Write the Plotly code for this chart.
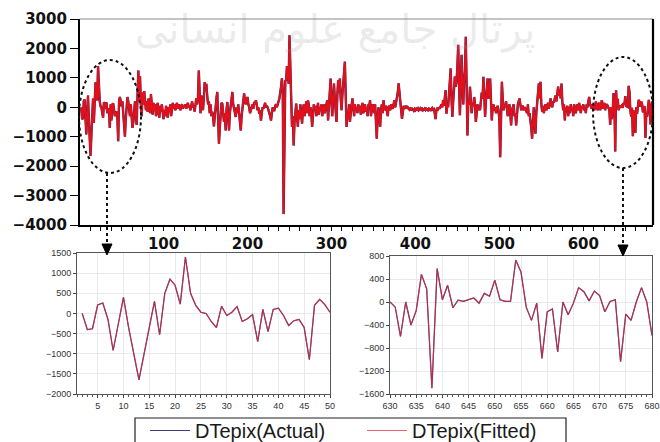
import plotly.graph_objects as go

# ---------------- data ----------------
seg_002_050 = [0, -400, -380, 210, 260, -150, -920, -250, 400, -350,
               -1000, -1650, -1000, -300, 300, -530, 500, 850, 700, 230,
               1400, 500, 200, 30, 0, -200, -350, 180, -50, 30,
               170, -200, -130, -30, -700, 100, -450, 100, 130, -50,
               -300, -180, -150, -350, -1150, 200, 350, 220, 30]
seg_051_140 = [200, -300, -600, -1000, -400, 100, 350, 200, -100, -300,
               100, -200, -700, -500, -200, 200, -300, -600, 400, 1250,
               200, 1050, 100, -300, 500, 100, 550, 100, -100, 200,
               -150, 300, 100, -200, 450, 0, -250, 150, -100, 100,
               -300, -50, 150, -200, -350, 50, -150, 100, -250, -400,
               -100, -300, 50, -200, -350, 0, -150, 100, -300, -100,
               150, -50, 100, -100, 50, 150, -50, 100, 0, -100,
               50, 100, -50, 50, 0, 100, -50, 50, 150, 0,
               50, -100, 100, 200, 0, 50, -150, 100, 300, 100]
seg_141_260 = [300, 1250, 200, -200, 400, 100, -100, 300, 850, 700,
               800, 400, 100, 200, -200, 100, -300, -150, -300, -650,
               -200, 100, 300, 520, -400, -1240, -700, -200, 150, 120,
               -300, -500, -200, -790, -100, 180, -300, -790, -200, 100,
               300, 520, 100, -100, -300, -330, 0, -200, 100, -160,
               -400, -790, -300, 0, 200, 470, 200, 100, 250, 350,
               100, 0, -200, -100, 50, 100, -50, 180, 100, 240,
               100, -100, 0, -220, -100, -450, -200, 0, -50, 70,
               150, 0, 50, 0, -150, -200, -300, -450, -200, 0,
               -100, -100, 50, 100, 0, 70, 200, 300, 470, 700,
               980, 600, -3630, 200, 900, 920, 1400, 1150, 800, 2450,
               1200, 520, -670, -300, -1300, -500, -200, 125, -300, -670]
seg_261_390 = [-100, -400, 100, -200, -560, -100, 100, -300, 0, 200,
               -200, 240, 100, -300, 0, -200, -670, -200, 100, -100,
               50, -300, 0, 150, -250, 0, -100, 100, -300, -50,
               100, -200, 0, 150, 240, -450, 100, 400, 980, 200,
               -300, 300, 810, 300, 0, -500, 400, 920, 500, 980,
               300, -100, 400, 800, 1000, 1550, 400, -670, -200, -400,
               100, -500, -200, 100, 300, 0, -300, 100, -100, 0,
               -200, 100, -100, 50, -250, 0, 150, -200, 50, 100,
               -150, 0, -300, 100, 50, 240, -300, -100, 100, 0,
               -200, 100, -400, -1070, -300, 0, -300, -670, -100, 100,
               -200, 240, 0, -100, 50, -100, -300, 0, 50, -100,
               100, 0, -50, 100, 240, 0, 150, 300, 500, 810,
               400, 0, -100, -390, -100, 50, -50, 0, 50, -50]
seg_391_430 = [0, -30, -80, -50, -100, -50, -80, -120, -60, -100,
               -50, -80, -40, -100, -60, -30, -80, -50, -100, -60,
               -40, -90, -50, -70, -100, -40, -60, -120, -50, -30,
               -80, -60, -200, -400, -100, -20, -60, 0, -50, 50]
seg_431_560 = [100, 0, 240, 50, 300, 580, -220, 100, 0, 400,
               800, 1320, 300, -330, 200, 600, 1040, 700, 866, 1400,
               2120, 800, -270, 600, 1780, 900, 100, 866, 1200, 2400,
               500, -960, 200, 100, 700, 300, -200, 100, 50, 350,
               100, -500, 0, 100, -100, 50, -100, 200, 500, 300,
               1040, 400, -330, 200, 600, 980, 300, 500, 980, 200,
               -450, 0, 100, -100, 0, -200, -50, 50, -100, -400,
               -1700, -200, 866, 300, -100, 100, 0, 200, -100, -300,
               0, 100, -200, -620, -100, 0, 100, -300, -200, -620,
               -100, 100, 200, 300, 100, -100, 0, 50, -100, 0,
               -50, -150, -200, 100, -300, -200, -400, -700, -1070, -300,
               0, -500, -900, -200, 100, 400, 810, 300, 866, 100,
               -150, 50, -200, 0, 100, -100, 50, 150, -50, 200]
seg_561_629 = [300, 100, 0, 200, 150, 300, 400, 200, 500, 700,
               400, 600, 300, 810, 200, -100, 100, -450, 0, -100,
               50, -300, 0, -200, 100, -50, 0, -300, 100, 0,
               -200, 50, 100, -100, 150, 0, -200, 50, -50, 100,
               -100, 0, -200, 100, 0, 200, 350, 100, 0, -50,
               100, 50, -100, 0, 200, 50, -100, 100, 150, -100,
               0, 240, 100, -50, 150, -100, 50, 100, 50]
seg_630_682 = [0, -90, -600, 0, -400, -150, 480, 230, -1500, 580,
               40, 290, -100, 30, 10, 40, 70, -20, 150, 100,
               380, 40, 10, 10, 730, 520, -90, -320, -20, -980,
               -170, -120, -870, 0, -220, -20, 250, 180, 20, 190,
               110, -170, 10, 40, -1040, -210, -320, 0, 250, 0,
               -580, -100, 200]

segments = [(2, seg_002_050), (51, seg_051_140), (141, seg_141_260),
            (261, seg_261_390), (391, seg_391_430), (431, seg_431_560),
            (561, seg_561_629), (630, seg_630_682)]

obs = []
actual = []
for start, vals in segments:
    obs += list(range(start, start + len(vals)))
    actual += vals
fitted = list(actual)  # fitted values coincide visually with actual

left_x = [o for o in obs if 2 <= o <= 50]
left_a = [a for o, a in zip(obs, actual) if 2 <= o <= 50]
left_f = [f for o, f in zip(obs, fitted) if 2 <= o <= 50]
right_x = [o for o in obs if 630 <= o <= 680]
right_a = [a for o, a in zip(obs, actual) if 630 <= o <= 680]
right_f = [f for o, f in zip(obs, fitted) if 630 <= o <= 680]

main_yticks = [3000, 2000, 1000, 0, -1000, -2000, -3000, -4000]
main_xticks = [100, 200, 300, 400, 500, 600]
left_yticks = [1500, 1000, 500, 0, -500, -1000, -1500, -2000]
right_yticks = [800, 400, 0, -400, -800, -1200, -1600]

# ---------------- figure ----------------
W, H = 660, 442
def PX(px):
    return px / W
def PY(py):
    return 1 - py / H

ACT_MAIN = '#2a2c6e'
FIT_MAIN = '#e3101a'
ACT_IN = '#3c3f7c'
FIT_IN = 'rgba(222,40,62,0.72)'

fig = go.Figure()
fig.add_trace(go.Scatter(x=obs, y=actual, mode='lines', line=dict(color=ACT_MAIN, width=2.4),
                         xaxis='x', yaxis='y', showlegend=False, name='DTepix(Actual)'))
fig.add_trace(go.Scatter(x=obs, y=fitted, mode='lines', line=dict(color=FIT_MAIN, width=1.9),
                         xaxis='x', yaxis='y', showlegend=False, name='DTepix(Fitted)'))
fig.add_trace(go.Scatter(x=left_x, y=left_a, mode='lines', line=dict(color=ACT_IN, width=1.2),
                         xaxis='x2', yaxis='y2', showlegend=True, name='DTepix(Actual)'))
fig.add_trace(go.Scatter(x=left_x, y=left_f, mode='lines', line=dict(color=FIT_IN, width=1.2),
                         xaxis='x2', yaxis='y2', showlegend=True, name='DTepix(Fitted)'))
fig.add_trace(go.Scatter(x=right_x, y=right_a, mode='lines', line=dict(color=ACT_IN, width=1.2),
                         xaxis='x3', yaxis='y3', showlegend=False))
fig.add_trace(go.Scatter(x=right_x, y=right_f, mode='lines', line=dict(color=FIT_IN, width=1.2),
                         xaxis='x3', yaxis='y3', showlegend=False))

main_font = dict(family='DejaVu Sans', size=15, color='#111', weight='bold')
in_font = dict(family='Liberation Sans, Arial', size=9, color='#333')

fig.update_layout(
    width=W, height=H, autosize=False,
    margin=dict(l=0, r=0, t=0, b=0, pad=0, autoexpand=False),
    paper_bgcolor='white', plot_bgcolor='white',
    xaxis=dict(domain=[PX(80), PX(653)], range=[0.5, 683], anchor='y',
               tickvals=main_xticks, ticks='outside', ticklen=4, tickwidth=1.2, tickcolor='black',
               minor=dict(dtick=12.5, tick0=0, ticks='outside', ticklen=4, tickcolor='black', tickwidth=1),
               showline=True, linecolor='black', linewidth=2.2, showgrid=False, zeroline=False,
               tickfont=main_font),
    yaxis=dict(domain=[PY(225), PY(19)], range=[-4000, 3000], anchor='x',
               tickvals=main_yticks, ticks='outside', ticklen=8, tickwidth=1.2, tickcolor='black',
               showline=True, linecolor='black', linewidth=2.2, showgrid=False, zeroline=False,
               tickfont=main_font),
    xaxis2=dict(domain=[PX(77), PX(330)], range=[1, 50], anchor='y2',
                tick0=0, dtick=5, ticks='outside', ticklen=3, tickcolor='#444',
                minor=dict(dtick=1, tick0=0, ticks='outside', ticklen=2, tickcolor='#555', showgrid=False),
                showline=True, mirror=True, linecolor='#555', linewidth=1,
                showgrid=True, gridcolor='#e9e9e9', gridwidth=1, zeroline=False, tickfont=in_font),
    yaxis2=dict(domain=[PY(394), PY(253)], range=[-2000, 1500], anchor='x2',
                tickvals=left_yticks, ticks='outside', ticklen=3, tickcolor='#444',
                showline=True, mirror=True, linecolor='#555', linewidth=1,
                showgrid=True, gridcolor='#e9e9e9', gridwidth=1, zeroline=False, tickfont=in_font),
    xaxis3=dict(domain=[PX(390), PX(652)], range=[630, 680], anchor='y3',
                tick0=0, dtick=5, ticks='outside', ticklen=3, tickcolor='#444',
                minor=dict(dtick=1, tick0=0, ticks='outside', ticklen=2, tickcolor='#555', showgrid=False),
                showline=True, mirror=True, linecolor='#555', linewidth=1,
                showgrid=True, gridcolor='#e9e9e9', gridwidth=1, zeroline=False, tickfont=in_font),
    yaxis3=dict(domain=[PY(394), PY(256)], range=[-1600, 800], anchor='x3',
                tickvals=right_yticks, ticks='outside', ticklen=3, tickcolor='#444',
                showline=True, mirror=True, linecolor='#555', linewidth=1,
                showgrid=True, gridcolor='#e9e9e9', gridwidth=1, zeroline=False, tickfont=in_font),
    legend=dict(orientation='h', x=PX(145), xanchor='left', y=PY(411), yanchor='top',
                bgcolor='rgba(0,0,0,0)', borderwidth=0,
                font=dict(family='Liberation Sans, Arial', size=20, color='#1a1a1a'),
                entrywidth=162, itemwidth=40),
)

shapes = []
# legend frame
shapes.append(dict(type='rect', xref='paper', yref='paper', x0=PX(135), x1=PX(566), y0=PY(460), y1=PY(418),
                   line=dict(color='#222', width=1.2), fillcolor='rgba(0,0,0,0)', layer='below'))
# top (thin grey) and right (black) frame of the main panel
shapes.append(dict(type='line', xref='paper', yref='paper', x0=PX(80), x1=PX(653), y0=PY(19), y1=PY(19),
                   line=dict(color='#8a8a8a', width=1.2)))
shapes.append(dict(type='line', xref='paper', yref='paper', x0=PX(653), x1=PX(653), y0=PY(225), y1=PY(19),
                   line=dict(color='black', width=2.2)))
# dotted ellipses
shapes.append(dict(type='circle', xref='paper', yref='paper', x0=PX(79), x1=PX(141), y0=PY(173), y1=PY(60),
                   line=dict(color='#111', width=2, dash='dot')))
shapes.append(dict(type='circle', xref='paper', yref='paper', x0=PX(593), x1=PX(653), y0=PY(168), y1=PY(57),
                   line=dict(color='#111', width=2, dash='dot')))
# dotted leader lines
shapes.append(dict(type='line', xref='paper', yref='paper', x0=PX(107), x1=PX(107), y0=PY(173), y1=PY(244),
                   line=dict(color='#111', width=2, dash='dot')))
shapes.append(dict(type='line', xref='paper', yref='paper', x0=PX(623), x1=PX(623), y0=PY(168), y1=PY(245),
                   line=dict(color='#111', width=2, dash='dot')))
# arrow heads
for cx, top, bot in [(107, 244, 255), (623, 245, 256)]:
    path = 'M {:.5f},{:.5f} L {:.5f},{:.5f} L {:.5f},{:.5f} Z'.format(
        PX(cx - 5), PY(top), PX(cx + 5), PY(top), PX(cx), PY(bot))
    shapes.append(dict(type='path', xref='paper', yref='paper', path=path,
                       fillcolor='black', line=dict(color='black', width=1)))
fig.update_layout(shapes=shapes)

# faint watermark
fig.add_annotation(text='پرتال جامع علوم انسانی', xref='paper', yref='paper',
                   x=PX(335), y=PY(30), xanchor='center', yanchor='middle', showarrow=False,
                   font=dict(family='DejaVu Sans', size=40, color='rgba(150,150,150,0.2)'))

fig.write_html('out.html', config={'displayModeBar': False},
               post_script="document.body.style.margin='0px';document.body.style.padding='0px';")
